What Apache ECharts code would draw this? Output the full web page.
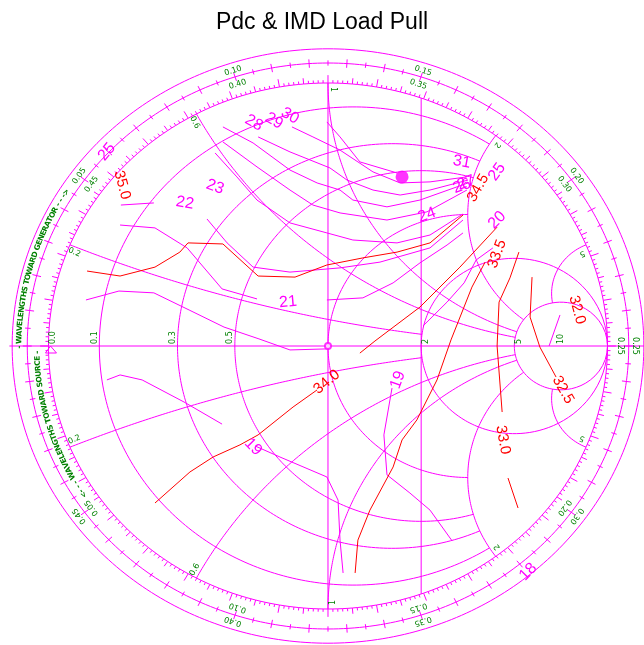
<!DOCTYPE html>
<html>
<head>
<meta charset="utf-8">
<title>Pdc & IMD Load Pull</title>
<script src="https://cdn.jsdelivr.net/npm/echarts@6/dist/echarts.min.js"></script>
<style>
html, body { margin: 0; padding: 0; background: #fff; }
#chart { width: 644px; height: 645px; }
</style>
</head>
<body>
<div id="chart"></div>
<script>
// values are reflection coefficient [re, im]

// IMD contours (red)
var imd345 = [[-0.862,0.285],[-0.744,0.266],[-0.619,0.300],[-0.530,0.357],[-0.501,0.392],[-0.376,0.388],[-0.250,0.266],[-0.118,0.262],[-0.004,0.308],[0.125,0.335],[0.247,0.357],[0.365,0.392],[0.483,0.498]];
var imd340a = [[-0.619,-0.597],[-0.494,-0.479],[-0.411,-0.422],[-0.315,-0.376],[-0.250,-0.338],[-0.125,-0.232],[-0.039,-0.167]];
var imd340b = [[0.114,-0.027],[0.168,0.019],[0.329,0.148],[0.472,0.300],[0.605,0.452]];
var imd335 = [[0.562,0.319],[0.515,0.224],[0.440,0.023],[0.390,-0.129],[0.318,-0.281],[0.265,-0.357],[0.233,-0.460],[0.150,-0.624],[0.107,-0.738],[0.097,-0.863]];
var imd330a = [[0.683,0.357],[0.651,0.259],[0.612,0.167],[0.605,0.000],[0.623,-0.251]];
var imd330b = [[0.644,-0.502],[0.680,-0.616]];
var imd325 = [[0.730,0.262],[0.723,0.110],[0.758,-0.004],[0.816,-0.118]];

var imdLabels = ['35.0', '34.5', '34.0', '33.5', '33.0', '32.5', '32.0'];
var imdLabelAt = [[-0.737,0.612],[0.537,0.601],[-0.004,-0.137],[0.605,0.350],[0.626,-0.357],[0.841,-0.167],[0.891,0.137]];
var imdLabelRot = [-75, 60, 40, 70, -80, -60, -75];

// Pdc contours (magenta)
var pdc31 = [[-0.004,0.852],[0.043,0.795],[0.114,0.700],[0.247,0.658]];
var pdc30 = [[-0.129,0.833],[-0.054,0.795],[0.043,0.745],[0.161,0.662],[0.258,0.620],[0.365,0.624],[0.497,0.643]];
var pdc29 = [[-0.250,0.795],[-0.136,0.738],[0.007,0.677],[0.068,0.631],[0.161,0.593],[0.258,0.574],[0.365,0.593],[0.501,0.631]];
var pdc28 = [[-0.376,0.833],[-0.268,0.772],[-0.136,0.669],[-0.039,0.620],[0.043,0.593],[0.089,0.555],[0.211,0.529],[0.329,0.555],[0.501,0.620]];
var pdc27 = [[-0.376,0.776],[-0.254,0.681],[-0.136,0.593],[-0.054,0.536],[0.043,0.506],[0.211,0.479],[0.354,0.510],[0.497,0.593]];
var pdc24 = [[-0.404,0.734],[-0.326,0.643],[-0.254,0.555],[-0.136,0.468],[-0.004,0.430],[0.089,0.403],[0.247,0.392],[0.365,0.422],[0.483,0.502]];
var pdc22a = [[-0.741,0.536],[-0.623,0.544]];
var pdc22b = [[-0.433,0.483],[-0.361,0.392],[-0.268,0.300],[-0.136,0.281],[0.043,0.297],[0.186,0.319],[0.365,0.373],[0.483,0.479]];
var pdc21a = [[-0.744,0.460],[-0.619,0.449],[-0.504,0.373],[-0.379,0.217],[-0.254,0.179]];
var pdc21b = [[-0.004,0.175],[0.125,0.183],[0.233,0.240],[0.329,0.316],[0.426,0.384],[0.483,0.430]];
var pdc20 = [[-0.866,0.175],[-0.748,0.209],[-0.623,0.202],[-0.497,0.137],[-0.372,0.072],[-0.247,0.027],[-0.136,-0.015],[-0.004,-0.011]];
var pdc20r = [[0.340,0.076],[0.426,0.167],[0.487,0.240],[0.530,0.327],[0.590,0.373]];
var pdc19a = [[-0.791,-0.129],[-0.744,-0.110],[-0.665,-0.129],[-0.515,-0.213],[-0.379,-0.297]];
var pdc19b = [[-0.261,-0.380],[-0.172,-0.422],[-0.004,-0.498],[0.036,-0.586],[0.043,-0.738],[0.054,-0.863]];
var pdc19c = [[0.229,-0.160],[0.200,-0.338],[0.211,-0.490],[0.293,-0.559],[0.365,-0.624],[0.444,-0.741]];
var pdc18 = [[0.791,0.000],[0.830,0.118]];

var pdcLabels = ['25', '28', '29', '30', '31', '26', '27', '25', '24', '23', '22', '21', '20', '19', '19', '18'];
var pdcLabelAt = [[-0.791,0.738],[-0.265,0.848],[-0.193,0.856],[-0.136,0.875],[0.479,0.700],[0.479,0.608],[0.494,0.620],[0.605,0.662],[0.354,0.498],[-0.404,0.605],[-0.512,0.544],[-0.143,0.167],[0.605,0.479],[0.250,-0.129],[-0.268,-0.384],[0.716,-0.859]];
var pdcLabelRot = [50, -30, -30, -30, -10, 20, 20, 55, 20, -20, -10, 5, 45, 70, -45, 45];

var optimum = [[0.265, 0.643]];

// Smith chart grid
var rValues = [0.1, 0.3, 0.5, 1, 2, 5];
var rXLimit = [2, 2, 2, 2, Infinity, Infinity];
var xValues = [0.2, 0.6, 1, 2, 5];
var xRLimit = [2, 5, 5, 5, 5];
var rTickValues = [0, 0.1, 0.3, 0.5, 2, 5, 10];
var rTickLabels = ['0.0', '0.1', '0.3', '0.5', '2', '5', '10'];
var xTickLabels = ['0.2', '0.6', '1', '2', '5'];
var wlAngles = [144, 108, 72, 36, 0, -36, -72, -108, -144];
var wlGenerator = ['0.05', '0.10', '0.15', '0.20', '0.25', '0.30', '0.35', '0.40', '0.45'];
var wlLoad = ['0.45', '0.40', '0.35', '0.30', '0.25', '0.20', '0.15', '0.10', '0.05'];

var MAG = '#ff00ff', RED = '#ff0000', GRN = '#008000';
var RING_MID = 1.076, RING_OUT = 1.13;
var D = Math.PI / 180;

function gam(r, x) {
  var d = (r + 1) * (r + 1) + x * x;
  return [(r * r + x * x - 1) / d, 2 * x / d];
}
function rCurve(r, xMax) {
  var a = isFinite(xMax) ? Math.atan(xMax) : Math.PI / 2 - 1e-6;
  var pts = [];
  for (var i = 0; i <= 240; i++) pts.push(gam(r, Math.tan(-a + 2 * a * i / 240)));
  return pts;
}
function xCurve(x, rMax) {
  var sMax = rMax / (1 + rMax), pts = [];
  for (var i = 0; i <= 240; i++) {
    var s = sMax * i / 240;
    pts.push(gam(s / (1 - s), x));
  }
  return pts;
}
function ring(rad) {
  var pts = [];
  for (var i = 0; i <= 360; i++) pts.push([rad * Math.cos(i * D), rad * Math.sin(i * D)]);
  return pts;
}
function line(data, color, z) {
  return { type: 'line', data: data, symbol: 'none', silent: true, animation: false, z: z || 2,
    lineStyle: { color: color, width: 1 } };
}

var series = [];
// rings and axis
series.push(line(ring(1), MAG), line(ring(RING_MID), MAG), line(ring(RING_OUT), MAG));
series.push(line([[-1.14, 0], [1.14, 0]], MAG));
series.push(line([[0, -1], [0, 1]], MAG));
series.push(line([[1 / 3, -0.9428], [1 / 3, 0.9428]], MAG));
rValues.forEach(function (r, i) { series.push(line(rCurve(r, rXLimit[i]), MAG)); });
xValues.forEach(function (x, i) {
  series.push(line(xCurve(x, xRLimit[i]), MAG));
  series.push(line(xCurve(-x, xRLimit[i]), MAG));
});

// ticks on the rings
var ticks = [];
for (var a = 0; a < 360; a++) {
  var len = a % 10 === 0 ? 0.03 : (a % 5 === 0 ? 0.022 : 0.011);
  ticks.push([a, 1, 1 + len]);
}
for (var k = 0; k < 100; k++) {
  var ang = 180 - k * 3.6, h = k % 2 === 0 ? 0.016 : 0.01;
  ticks.push([ang, RING_MID - h, RING_MID + h]);
}
series.push({
  type: 'custom', silent: true, animation: false, z: 2,
  data: ticks.map(function (t) { return [Math.cos(t[0] * D), Math.sin(t[0] * D)]; }),
  renderItem: function (params, api) {
    var t = ticks[params.dataIndex], c = Math.cos(t[0] * D), s = Math.sin(t[0] * D);
    var p0 = api.coord([t[1] * c, t[1] * s]), p1 = api.coord([t[2] * c, t[2] * s]);
    return { type: 'line', shape: { x1: p0[0], y1: p0[1], x2: p1[0], y2: p1[1] },
      style: { stroke: MAG, lineWidth: 1 } };
  }
});

// reference marker at the left edge
series.push({
  type: 'custom', silent: true, animation: false, z: 3, data: [[-1, 0]],
  renderItem: function (params, api) {
    var p = api.coord([-1, 0]);
    return { type: 'polygon', shape: { points: [[p[0] - 3, p[1] + 7], [p[0] + 2, p[1]], [p[0] + 8, p[1] + 7]] },
      style: { stroke: MAG, fill: 'none', lineWidth: 1 } };
  }
});

// text helper
function texts(items, font, color) {
  return {
    type: 'custom', silent: true, animation: false, z: 5,
    data: items.map(function (it) { return [it.u, it.v]; }),
    renderItem: function (params, api) {
      var it = items[params.dataIndex], p = api.coord([it.u, it.v]);
      return { type: 'text', x: p[0] + (it.dx || 0), y: p[1] + (it.dy || 0), rotation: (it.rot || 0) * D,
        style: { text: it.text, fill: color, font: font, align: it.align || 'center', verticalAlign: 'middle' } };
    }
  };
}

// grid labels
var gridText = [];
rTickValues.forEach(function (r, i) {
  var e = (r - 1) / (r + 1);
  gridText.push({ text: rTickLabels[i], u: e, v: 0, dx: r < 1 && r > 0 ? -4.5 : 4.5, dy: -2, rot: 90, align: 'left' });
});
xValues.forEach(function (x, i) {
  var th = 180 - 2 * Math.atan(x) / D;
  var la = th > 90.5 ? th + 1.2 : (th < 89.5 ? th - 1.5 : th - 1);
  gridText.push({ text: xTickLabels[i], u: 0.975 * Math.cos(la * D), v: 0.975 * Math.sin(la * D), rot: th - 180 });
  gridText.push({ text: xTickLabels[i], u: 0.975 * Math.cos(la * D), v: -0.975 * Math.sin(la * D), rot: 180 - th });
});
wlAngles.forEach(function (th, i) {
  gridText.push({ text: wlGenerator[i], u: 1.1 * Math.cos(th * D), v: 1.1 * Math.sin(th * D), rot: th - 90 });
  gridText.push({ text: wlLoad[i], u: 1.046 * Math.cos(th * D), v: 1.046 * Math.sin(th * D), rot: th - 90 });
});
series.push(texts(gridText, '8px "DejaVu Sans"', GRN));

// running text along an arc, spaced by glyph widths
var WL_FONT = 'bold 7.5px "DejaVu Sans"';
var measure = document.createElement('canvas').getContext('2d');
measure.font = WL_FONT;
function arcText(str, rad, a0, a1) {
  var w = [], total = 0;
  for (var i = 0; i < str.length; i++) { w.push(measure.measureText(str[i]).width); total += w[i]; }
  var out = [], acc = 0;
  for (var j = 0; j < str.length; j++) {
    var a = a0 + (a1 - a0) * (acc + w[j] / 2) / total;
    acc += w[j];
    out.push({ text: str[j], u: rad * Math.cos(a * D), v: rad * Math.sin(a * D), rot: a - 90 });
  }
  return out;
}
var wlText = arcText('- WAVELENGTHS TOWARD GENERATOR - - ->', 1.104, 180.5, 147.5)
  .concat(arcText('<- - - WAVELENGTHS TOWARD SOURCE -', 1.04, 213.5, 181));
series.push(texts(wlText, WL_FONT, GRN));

// contours
[pdc31, pdc30, pdc29, pdc28, pdc27, pdc24, pdc22a, pdc22b, pdc21a, pdc21b, pdc20, pdc20r, pdc19a, pdc19b, pdc19c, pdc18]
  .forEach(function (d) { series.push(line(d, MAG, 4)); });
[imd345, imd340a, imd340b, imd335, imd330a, imd330b, imd325]
  .forEach(function (d) { series.push(line(d, RED, 4)); });

series.push(texts(pdcLabels.map(function (t, i) {
  return { text: t, u: pdcLabelAt[i][0], v: pdcLabelAt[i][1], rot: pdcLabelRot[i] };
}), '16px "Liberation Sans"', MAG));
series.push(texts(imdLabels.map(function (t, i) {
  return { text: t, u: imdLabelAt[i][0], v: imdLabelAt[i][1], rot: imdLabelRot[i] };
}), '15px "Liberation Sans"', RED));

series.push({ type: 'scatter', data: [[0, 0]], symbol: 'emptyCircle', symbolSize: 6, silent: true, animation: false, z: 6,
  itemStyle: { color: MAG, borderColor: MAG, borderWidth: 1 } });
series.push({ type: 'scatter', data: optimum, symbol: 'circle', symbolSize: 13, silent: true, animation: false, z: 6,
  itemStyle: { color: MAG } });

var chart = echarts.init(document.getElementById('chart'));
chart.setOption({
  animation: false,
  title: { text: 'Pdc & IMD Load Pull', left: 'center', top: 6,
    textStyle: { fontSize: 23, fontWeight: 'normal', color: '#000', fontFamily: 'Liberation Sans' } },
  grid: { left: 0, right: 0, top: 0, bottom: 0 },
  xAxis: { type: 'value', min: -1.17352, max: 1.13059, show: false },
  yAxis: { type: 'value', min: -1.13688, max: 1.31559, show: false },
  series: series
});
</script>
</body>
</html>
